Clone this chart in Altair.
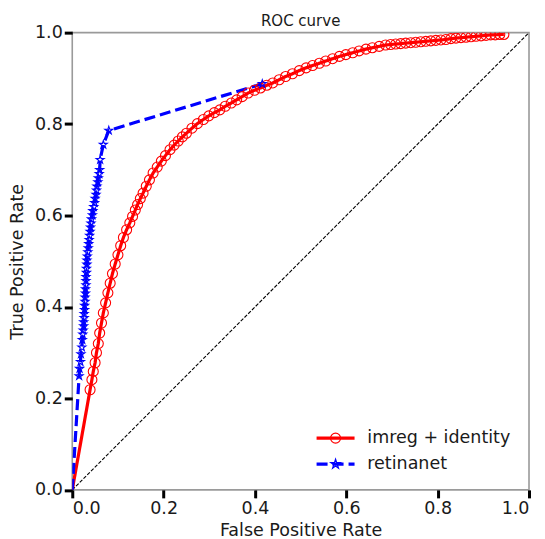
import altair as alt
import pandas as pd

series_names = ["imreg + identity", "retinanet"]
series_colors = ["#ff0000", "#0000ff"]

red_fpr = [0.0, 0.039, 0.043, 0.046, 0.050, 0.053, 0.057, 0.060, 0.064, 0.068, 0.073, 0.078, 0.083, 0.088, 0.094, 0.100, 0.106, 0.112, 0.119, 0.126,
           0.132, 0.138, 0.143, 0.149, 0.155, 0.162, 0.169, 0.177, 0.186, 0.195, 0.204, 0.214, 0.223, 0.232, 0.241, 0.250, 0.262, 0.274, 0.287,
           0.299, 0.311, 0.323, 0.335, 0.348, 0.360, 0.372, 0.385,
           0.399, 0.412, 0.426, 0.439, 0.453, 0.467, 0.482, 0.497, 0.512, 0.526, 0.541, 0.555, 0.570, 0.585, 0.599, 0.614, 0.628, 0.643, 0.657,
           0.672, 0.686,
           0.697, 0.708, 0.719, 0.730, 0.741, 0.752, 0.763, 0.774, 0.785, 0.796, 0.807, 0.818, 0.829, 0.840, 0.851, 0.862, 0.873, 0.884, 0.895,
           0.906, 0.916, 0.926, 0.936, 0.945]
red_tpr = [0.0, 0.219, 0.241, 0.259, 0.278, 0.300, 0.320, 0.343, 0.365, 0.387, 0.409, 0.431, 0.452, 0.473, 0.494, 0.514, 0.534, 0.552, 0.569, 0.584,
           0.598, 0.612, 0.624, 0.637, 0.649, 0.664, 0.678, 0.693, 0.706, 0.719, 0.731, 0.744, 0.754, 0.763, 0.772, 0.780, 0.791, 0.801, 0.810,
           0.818, 0.825, 0.831, 0.839, 0.846, 0.853, 0.860, 0.868,
           0.874, 0.879, 0.885, 0.890, 0.897, 0.904, 0.910, 0.917, 0.923, 0.928, 0.933, 0.938, 0.943, 0.948, 0.952, 0.956, 0.960, 0.964, 0.967,
           0.970, 0.973,
           0.974, 0.975, 0.976, 0.977, 0.978, 0.979, 0.980, 0.981, 0.982, 0.983, 0.984, 0.985, 0.987, 0.988, 0.989, 0.990, 0.991, 0.992, 0.993,
           0.994, 0.995, 0.995, 0.996, 0.996]

blue_fpr = [0.0, 0.015, 0.016, 0.018, 0.019, 0.021, 0.022, 0.023,
            0.024, 0.025, 0.025, 0.026, 0.026, 0.027, 0.027, 0.028, 0.028, 0.029, 0.029, 0.030, 0.030, 0.030, 0.031, 0.031, 0.032, 0.032,
            0.033, 0.034, 0.035, 0.036, 0.037, 0.038, 0.039, 0.040, 0.041, 0.042, 0.044, 0.045, 0.047, 0.049, 0.050, 0.052, 0.053, 0.054,
            0.056, 0.057, 0.059, 0.060,
            0.061, 0.068, 0.080, 0.416]
blue_tpr = [0.0, 0.249, 0.265, 0.280, 0.297, 0.312, 0.328, 0.340,
            0.349, 0.358, 0.367, 0.376, 0.385, 0.394, 0.403, 0.412, 0.421, 0.430, 0.439, 0.448, 0.457, 0.466, 0.475, 0.484, 0.493, 0.502,
            0.511, 0.520, 0.529, 0.538, 0.547, 0.556, 0.565, 0.574, 0.583, 0.592, 0.601, 0.610, 0.619, 0.628, 0.637, 0.646, 0.655, 0.664,
            0.673, 0.682, 0.691, 0.700,
            0.722, 0.755, 0.786, 0.888]

diag_vals = [0.0, 1.0]
tick_values = [0.0, 0.2, 0.4, 0.6, 0.8, 1.0]

FONT = "DejaVu Sans"
TXT = "#1a1a1a"
STAR = ("M0,-1L0.2245,-0.309L0.951,-0.309L0.3633,0.118L0.588,0.809L0,0.382"
        "L-0.588,0.809L-0.3633,0.118L-0.951,-0.309L-0.2245,-0.309Z")
LEG_LINE = "M-3.8,0L3.8,0"

rows = []
for i, (x, y) in enumerate(zip(red_fpr, red_tpr)):
    rows.append({"series": series_names[0], "fpr": x, "tpr": y, "idx": i, "marker": i > 0})
for i, (x, y) in enumerate(zip(blue_fpr, blue_tpr)):
    rows.append({"series": series_names[1], "fpr": x, "tpr": y, "idx": i, "marker": i > 0})
df = pd.DataFrame(rows)
diag_df = pd.DataFrame({"fpr": diag_vals, "tpr": diag_vals})

xs = alt.Scale(domain=[0, 1], nice=False, zero=False)
ys = alt.Scale(domain=[0, 1], nice=False, zero=False)
color_scale = alt.Scale(domain=series_names, range=series_colors)

LEGX = 254.7
LEGY = 397

common_leg = dict(title=None, orient="none", legendX=LEGX, legendY=LEGY, padding=0,
                  symbolSize=100, labelFontSize=17.5, labelFont=FONT, labelColor=TXT,
                  labelOffset=23, rowPadding=7, symbolOffset=0)

line_legend = alt.Legend(symbolType=LEG_LINE, symbolStrokeWidth=3.2, **common_leg)
point_legend = alt.Legend(symbolStrokeWidth=1.2, labelOpacity=0, **common_leg)

x_enc = alt.X("fpr:Q", scale=xs, title="False Positive Rate",
              axis=alt.Axis(values=tick_values, format=".1f"))
y_enc = alt.Y("tpr:Q", scale=ys, title="True Positive Rate",
              axis=alt.Axis(values=tick_values, format=".1f"))

diag = alt.Chart(diag_df).mark_line(color="black", strokeWidth=1.1, strokeDash=[3.7, 1.6]).encode(
    x=alt.X("fpr:Q", scale=xs), y=alt.Y("tpr:Q", scale=ys))

lines = alt.Chart(df).mark_line(strokeWidth=3.2, clip=True).encode(
    x=x_enc, y=y_enc, order="idx:Q",
    color=alt.Color("series:N", scale=color_scale, legend=line_legend),
    strokeDash=alt.StrokeDash("series:N", scale=alt.Scale(domain=series_names, range=[[1, 0], [11, 5]]),
                              legend=line_legend),
)

points = alt.Chart(df).transform_filter(alt.datum.marker).mark_point(
    filled=False, strokeWidth=1.1, clip=True, opacity=1).encode(
    x=x_enc, y=y_enc,
    color=alt.Color("series:N", scale=color_scale, legend=point_legend),
    shape=alt.Shape("series:N", scale=alt.Scale(domain=series_names, range=["circle", STAR]),
                    legend=point_legend),
    size=alt.condition(alt.datum.series == series_names[1], alt.value(70), alt.value(100)),
)

chart = alt.layer(diag, lines, points).resolve_legend(
    color="independent", shape="independent", strokeDash="independent"
).properties(
    width=457, height=457.5,
    title=alt.TitleParams("ROC curve", fontSize=15, font=FONT, fontWeight="normal", color=TXT, offset=5, dy=10),
    autosize=alt.AutoSizeParams(type="none"),
    padding={"left": 64.3, "top": 24.5, "right": 8, "bottom": 49},
).configure_view(
    stroke="#9a9a9a", strokeWidth=1.6
).configure_axis(
    grid=False, domain=False, tickColor="black", tickWidth=3, tickSize=8,
    labelFont=FONT, labelFontSize=17.5, labelColor=TXT, labelPadding=2,
    titleFont=FONT, titleFontSize=17.5, titleFontWeight="normal", titleColor=TXT,
).configure_axisX(titlePadding=4).configure_axisY(titlePadding=8)

chart.save("out.html", embed_options={"renderer": "svg", "actions": False})
